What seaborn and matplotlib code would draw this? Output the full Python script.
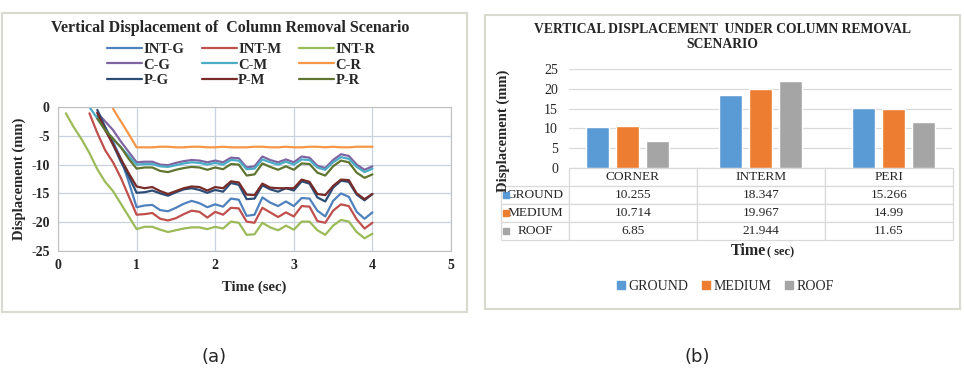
import numpy as np
import pandas as pd
import seaborn as sns
import matplotlib.pyplot as plt
from matplotlib.patches import Rectangle
from matplotlib.lines import Line2D

# ==========================================
# data (a): vertical displacement vs time, every series ends at 4.0 s
# ==========================================
time = np.round(np.arange(0.1, 4.01, 0.1), 1)

int_g = [-1.5, -3.5, -6.0, -9.0, -13.0, -17.4, -17.1, -17.0, -17.9, -18.1, -17.5, -16.8, -16.3, -16.7,
         -17.4, -16.9, -17.3, -15.9, -16.1, -18.9, -18.7, -15.7, -16.6, -17.2, -16.4, -17.2, -15.8,
         -15.9, -18.0, -19.0, -16.3, -15.0, -15.6, -18.2, -19.4, -18.3]
int_m = [-1.1, -4.5, -7.5, -9.6, -12.3, -15.5, -18.7, -18.6, -18.4, -19.4, -19.7, -19.3, -18.6, -18.0,
         -18.2, -19.2, -18.2, -18.7, -17.5, -17.6, -19.9, -20.1, -17.5, -18.3, -19.1, -18.3, -19.0,
         -17.2, -17.3, -19.8, -20.1, -18.0, -16.9, -17.2, -19.5, -21.1, -20.1]
int_r = [-1.1, -3.5, -5.6, -8.0, -10.8, -13.0, -14.6, -16.8, -19.0, -21.2, -20.8, -20.8, -21.3, -21.7,
         -21.4, -21.1, -20.9, -20.9, -21.2, -20.8, -21.1, -19.9, -20.1, -22.2, -22.1, -20.1, -20.9,
         -21.4, -20.6, -21.3, -19.9, -19.9, -21.4, -22.2, -20.6, -19.6, -19.9, -21.7, -22.8, -22.0]
c_g = [-1.0, -2.5, -4.0, -6.0, -7.8, -9.6, -9.5, -9.5, -10.0, -10.1, -9.7, -9.4, -9.2, -9.3, -9.6,
       -9.3, -9.6, -8.8, -8.9, -10.5, -10.3, -8.6, -9.2, -9.6, -9.1, -9.6, -8.6, -8.8, -10.2, -10.6,
       -9.2, -8.2, -8.5, -10.0, -10.9, -10.3]
c_m = [0.0, -2.0, -4.0, -5.5, -7.0, -8.5, -10.0, -9.9, -9.9, -10.3, -10.4, -10.1, -9.8, -9.6, -9.7,
       -10.0, -9.7, -10.0, -9.2, -9.3, -10.8, -10.7, -9.1, -9.6, -10.0, -9.5, -10.0, -9.1, -9.2,
       -10.5, -10.9, -9.6, -8.7, -9.0, -10.4, -11.3, -10.7]
c_r = [-0.3, -2.5, -4.7, -7.0, -7.0, -7.0, -6.9, -6.9, -7.0, -7.0, -6.9, -6.9, -7.0, -7.0, -6.9,
       -7.0, -7.0, -7.0, -6.9, -6.9, -7.0, -7.0, -6.9, -7.0, -7.0, -6.9, -6.9, -7.0, -6.9, -7.0,
       -7.0, -6.9, -6.9, -6.9]
p_g = [-0.5, -3.5, -6.5, -9.5, -12.0, -14.9, -14.8, -14.5, -15.0, -15.4, -14.8, -14.3, -14.1, -14.4,
       -14.9, -14.4, -14.7, -13.2, -13.5, -16.0, -15.9, -13.6, -14.3, -14.7, -14.1, -14.5, -12.9,
       -13.3, -15.7, -16.4, -14.0, -12.8, -13.0, -15.2, -16.2, -15.1]
p_m = [-1.0, -4.0, -6.5, -9.0, -11.5, -13.8, -14.1, -13.9, -14.6, -15.1, -14.6, -14.1, -13.8, -13.9,
       -14.5, -13.9, -14.1, -12.9, -13.1, -15.2, -15.3, -13.3, -14.0, -14.1, -14.1, -14.1, -12.6,
       -13.0, -15.1, -15.3, -13.7, -12.6, -12.7, -15.0, -16.0, -15.1]
p_r = [-2.0, -4.0, -5.5, -7.0, -9.0, -10.7, -10.5, -10.5, -11.1, -11.3, -10.9, -10.6, -10.4, -10.5,
       -10.9, -10.5, -10.8, -9.9, -10.0, -11.9, -11.7, -9.8, -10.4, -10.9, -10.3, -10.9, -9.8, -9.9,
       -11.4, -11.9, -10.3, -9.3, -9.6, -11.4, -12.3, -11.7]

series_names = ["INT-G", "INT-M", "INT-R", "C-G", "C-M", "C-R", "P-G", "P-M", "P-R"]
series_vals = [int_g, int_m, int_r, c_g, c_m, c_r, p_g, p_m, p_r]
line_colors = ["#4F81BD", "#C0504D", "#9BBB59", "#8064A2", "#4BACC6", "#F79646",
               "#2C4D75", "#772C2A", "#5F7530"]

# ==========================================
# data (b): peak displacement per removal location
# ==========================================
locations = ["CORNER", "INTERM", "PERI"]
levels = ["GROUND", "MEDIUM", "ROOF"]
ground = [10.255, 18.347, 15.266]
medium = [10.714, 19.967, 14.99]
roof = [6.85, 21.944, 11.65]
bar_colors = ["#5B9BD5", "#ED7D31", "#A5A5A5"]

rows = []
for name, vals in zip(series_names, series_vals):
    t = time[len(time) - len(vals):]
    rows += [(name, ti, v) for ti, v in zip(t, vals)]
df_a = pd.DataFrame(rows, columns=["series", "time", "disp"])

df_b = pd.DataFrame({
    "location": locations * 3,
    "level": [lv for lv in levels for _ in locations],
    "disp": ground + medium + roof,
})

sns.set_style("white")
plt.rcParams["font.family"] = ["Liberation Serif", "DejaVu Serif"]
plt.rcParams["axes.unicode_minus"] = False

fig = plt.figure(figsize=(9.64, 3.8), dpi=100)
W, H = 964, 380

def fx(px):
    return px / W

def fy(py):
    return 1 - py / H

# frames round each panel
fig.add_artist(Rectangle((fx(2), fy(312)), 465 / W, 299 / H, transform=fig.transFigure,
                         fill=False, edgecolor="#d9d9cf", lw=1.5))
fig.add_artist(Rectangle((fx(485), fy(309)), 475 / W, 294 / H, transform=fig.transFigure,
                         fill=False, edgecolor="#d9d9cf", lw=1.5))

# ---------- (a) line chart ----------
ax1 = fig.add_axes([fx(58), fy(251), (451 - 58) / W, (251 - 107) / H])
sns.lineplot(data=df_a, x="time", y="disp", hue="series", hue_order=series_names,
             palette=line_colors, lw=1.6, ax=ax1, legend=False)
ax1.set_xlim(0, 5)
ax1.set_ylim(-25, 0)
ax1.set_xticks(range(0, 6))
ax1.set_yticks(range(-25, 1, 5))
ax1.grid(True, color="#c9d3e0", lw=0.9)
for s in ax1.spines.values():
    s.set_color("#bfbfbf")
ax1.tick_params(length=0, labelsize=10, pad=6)
for lab in ax1.get_xticklabels() + ax1.get_yticklabels():
    lab.set_fontweight("bold")
ax1.set_xlabel("Time (sec)", fontsize=10.5, fontweight="bold", labelpad=6)
ax1.set_ylabel("Displacement (mm)", fontsize=10.5, fontweight="bold", labelpad=4)

fig.text(fx(230), fy(28), "Vertical Displacement of  Column Removal Scenario",
         ha="center", va="center", fontsize=11.5, fontweight="bold")

# legend ordered column by column so rows read INT / C / P
order = [0, 3, 6, 1, 4, 7, 2, 5, 8]
handles = [Line2D([], [], color=line_colors[i], lw=1.6) for i in order]
fig.legend(handles, [series_names[i] for i in order], ncol=3, frameon=False,
           loc="center", bbox_to_anchor=(fx(241), fy(65)),
           prop={"weight": "bold", "size": 10.5}, handlelength=2.4,
           handletextpad=0.1, labelspacing=0.15, columnspacing=1.2)

# ---------- (b) bar chart with data table ----------
ax2 = fig.add_axes([fx(569), fy(168), (952 - 569) / W, (168 - 69) / H])
sns.barplot(data=df_b, x="location", y="disp", hue="level", hue_order=levels,
            palette=bar_colors, width=0.67, gap=0.23, saturation=1, ax=ax2, legend=False)
ax2.set_ylim(0, 25)
ax2.set_yticks(range(0, 26, 5))
ax2.set_xticks([])
ax2.set_xlabel("")
ax2.set_ylabel("")
ax2.grid(True, axis="y", color="#d9d9d9", lw=0.9)
ax2.set_axisbelow(True)
for s in ax2.spines.values():
    s.set_visible(False)
ax2.tick_params(length=0, labelsize=10, pad=8)

cell_text = [[lv] + [f"{v:g}" for v in vals] for lv, vals in zip(levels, [ground, medium, roof])]
lab_w, col_w = 68, 128
tot_w = lab_w + 3 * col_w
ax_w = 952 - 569
tbl_h = 72 / 99
tbl = ax2.table(cellText=cell_text, colLabels=[""] + locations, cellLoc="center",
                colWidths=[lab_w / tot_w] + [col_w / tot_w] * 3,
                bbox=[-lab_w / ax_w, -tbl_h, tot_w / ax_w, tbl_h])
tbl.auto_set_font_size(False)
tbl.set_fontsize(9.6)
for (r, c), cell in tbl.get_celld().items():
    cell.set_edgecolor("#d9d9d9")
    cell.set_linewidth(0.9)
    if r == 0 and c == 0:
        cell.visible_edges = "open"
    if c == 0 and r > 0:
        cell._loc = "left"
        cell.PAD = 0.17
for i, col in enumerate(bar_colors):
    yc = -tbl_h * (i + 1.5) / 4
    ax2.plot([-lab_w / ax_w + 5 / ax_w], [yc], marker="s", ms=4.5, color=col,
             ls="", transform=ax2.transAxes, clip_on=False)

fig.text(fx(503), fy(131), "Displacement (mm)", rotation=90, ha="center", va="center",
         fontsize=10.5, fontweight="bold", zorder=0)
fig.text(fx(722), fy(37), "VERTICAL DISPLACEMENT  UNDER COLUMN REMOVAL\nSCENARIO",
         ha="center", va="center", fontsize=9.8, fontweight="bold", linespacing=1.15)
fig.text(fx(748), fy(251), "Time", ha="center", va="center", fontsize=11.5, fontweight="bold")
fig.text(fx(781), fy(252), "( sec)", ha="center", va="center", fontsize=9, fontweight="bold")

bar_handles = [Line2D([], [], marker="s", ls="", color=c, ms=6) for c in bar_colors]
fig.legend(bar_handles, levels, ncol=3, frameon=False, loc="center",
           bbox_to_anchor=(fx(724), fy(286)), prop={"size": 10},
           handletextpad=0.0, columnspacing=0.8, handlelength=1.0)

# captions
fig.text(fx(214), fy(357), "(a)", ha="center", va="center", fontsize=13, family="DejaVu Sans")
fig.text(fx(697), fy(357), "(b)", ha="center", va="center", fontsize=13, family="DejaVu Sans")

fig.savefig("out.png", dpi=100)
